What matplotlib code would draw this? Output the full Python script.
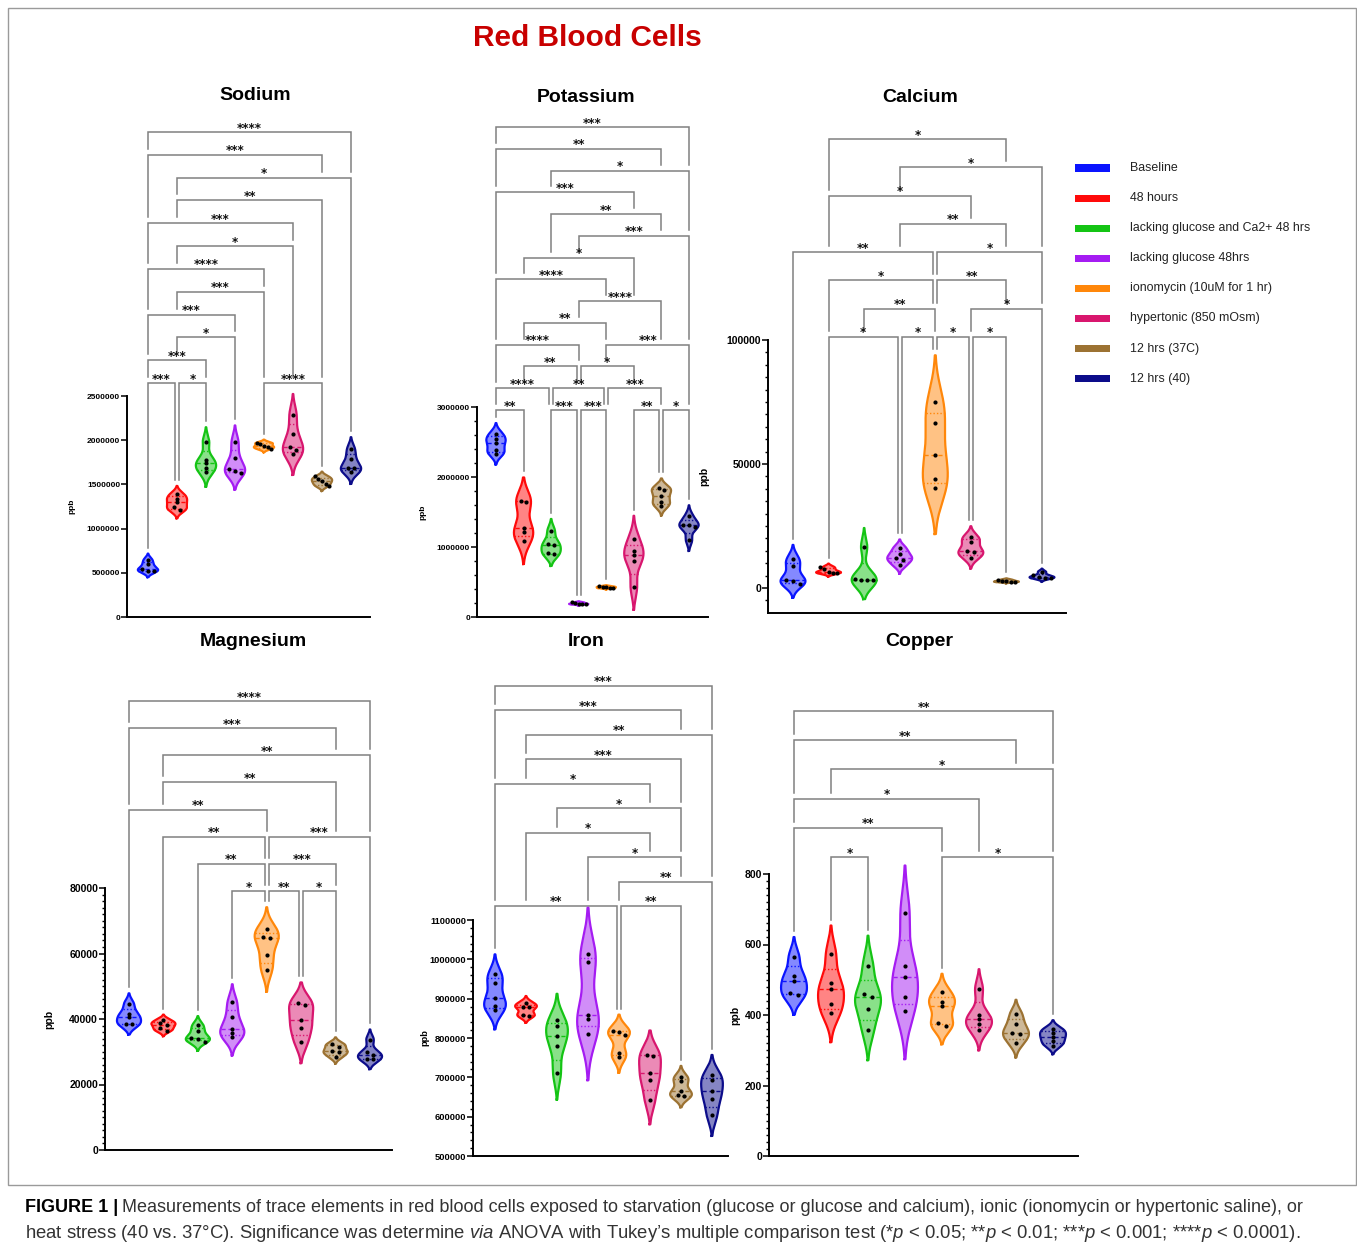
import numpy as np
import matplotlib
matplotlib.use("Agg")
import matplotlib.pyplot as plt
from matplotlib.patches import Rectangle
from matplotlib.ticker import FixedLocator, StrMethodFormatter

plt.rcParams.update({
    "font.family": ["Liberation Sans", "DejaVu Sans"],
    "mathtext.fontset": "custom",
    "mathtext.rm": "Liberation Sans",
    "mathtext.it": "Liberation Sans:italic",
    "mathtext.bf": "Liberation Sans:bold",
})

W, H = 1357, 1250

GROUPS = ["Baseline", "48 hours", "lacking glucose and Ca2+ 48 hrs", "lacking glucose 48hrs",
          "ionomycin (10uM for 1 hr)", "hypertonic (850 mOsm)", "12 hrs (37C)", "12 hrs (40)"]
COLORS = ["#0A14FF", "#FF0A0A", "#14C414", "#A51CF2", "#FF870A", "#D8166E", "#9C7232", "#0C0C8A"]

# ppb values, 5 replicates per condition
SODIUM = [
    [648000, 596000, 547000, 524000, 520000],
    [1390000, 1340000, 1300000, 1240000, 1210000],
    [1980000, 1780000, 1740000, 1690000, 1640000],
    [1980000, 1800000, 1670000, 1650000, 1630000],
    [1970000, 1960000, 1930000, 1920000, 1900000],
    [2290000, 2070000, 1920000, 1890000, 1840000],
    [1590000, 1560000, 1540000, 1510000, 1480000],
    [1900000, 1790000, 1690000, 1680000, 1640000],
]
POTASSIUM = [
    [2620000, 2540000, 2490000, 2380000, 2330000],
    [1660000, 1650000, 1270000, 1220000, 1090000],
    [1230000, 1050000, 1030000, 910000, 900000],
    [210000, 200000, 190000, 185000, 180000],
    [440000, 430000, 425000, 415000, 410000],
    [1120000, 950000, 880000, 800000, 430000],
    [1840000, 1820000, 1730000, 1640000, 1590000],
    [1440000, 1320000, 1310000, 1290000, 1100000],
]
CALCIUM = [
    [11800, 8700, 3400, 2700, 1700],
    [8500, 7600, 6500, 6200, 6000],
    [16600, 3600, 3400, 3100, 3100],
    [16200, 13900, 12100, 11400, 9200],
    [75100, 66400, 53700, 44000, 40500],
    [20600, 18600, 14900, 14500, 12200],
    [3400, 3000, 2700, 2500, 2400],
    [6500, 5100, 4400, 4200, 3900],
]
MAGNESIUM = [
    [44600, 41600, 40600, 38500, 38500],
    [39700, 38700, 38300, 37200, 36400],
    [38200, 36300, 34200, 33900, 33000],
    [45100, 40500, 36900, 35700, 34400],
    [67600, 65000, 64800, 59400, 54900],
    [44800, 44300, 39700, 37200, 32900],
    [32400, 31600, 30100, 29800, 28400],
    [33700, 29900, 29100, 27800, 27800],
]
IRON = [
    [963000, 941000, 901000, 882000, 872000],
    [889000, 880000, 878000, 859000, 857000],
    [845000, 830000, 806000, 779000, 711000],
    [1014000, 992000, 859000, 849000, 810000],
    [819000, 815000, 808000, 762000, 752000],
    [758000, 754000, 711000, 692000, 642000],
    [701000, 690000, 665000, 654000, 652000],
    [705000, 693000, 665000, 644000, 603000],
]
COPPER = [
    [565, 512, 496, 461, 457],
    [572, 490, 473, 431, 405],
    [540, 459, 450, 417, 357],
    [688, 539, 507, 450, 411],
    [465, 438, 426, 378, 369],
    [473, 400, 388, 374, 357],
    [403, 374, 348, 346, 320],
    [361, 350, 339, 326, 313],
]

# Tukey comparisons, one row per bracket tier (top tier first): (group i, group j, label)
SODIUM_SIG = [
    [(0, 7, "****")], [(0, 6, "***")], [(1, 7, "*")], [(1, 6, "**")], [(0, 5, "***")],
    [(1, 5, "*")], [(0, 4, "****")], [(1, 4, "***")], [(0, 3, "***")], [(1, 3, "*")],
    [(0, 2, "***")], [(0, 1, "***"), (1, 2, "*"), (4, 6, "****")],
]
POTASSIUM_SIG = [
    [(0, 7, "***")], [(0, 6, "**")], [(2, 7, "*")], [(0, 5, "***")], [(2, 6, "**")],
    [(3, 7, "***")], [(1, 5, "*")], [(0, 4, "****")], [(3, 6, "****")], [(1, 4, "**")],
    [(0, 3, "****"), (4, 7, "***")], [(1, 3, "**"), (3, 5, "*")],
    [(0, 2, "****"), (2, 4, "**"), (4, 6, "***")],
    [(0, 1, "**"), (2, 3, "***"), (3, 4, "***"), (5, 6, "**"), (6, 7, "*")],
]
CALCIUM_SIG = [
    [(1, 6, "*")], [(3, 7, "*")], [(1, 5, "*")], [(3, 6, "**")],
    [(0, 4, "**"), (4, 7, "*")], [(1, 4, "*"), (4, 6, "**")], [(2, 4, "**"), (5, 7, "*")],
    [(1, 3, "*"), (3, 4, "*"), (4, 5, "*"), (5, 6, "*")],
]
MAGNESIUM_SIG = [
    [(0, 7, "****")], [(0, 6, "***")], [(1, 7, "**")], [(1, 6, "**")], [(0, 4, "**")],
    [(1, 4, "**"), (4, 7, "***")], [(2, 4, "**"), (4, 6, "***")],
    [(3, 4, "*"), (4, 5, "**"), (5, 6, "*")],
]
IRON_SIG = [
    [(0, 7, "***")], [(0, 6, "***")], [(1, 7, "**")], [(1, 6, "***")], [(0, 5, "*")],
    [(2, 6, "*")], [(1, 5, "*")], [(3, 6, "*")], [(4, 7, "**")], [(0, 4, "**"), (4, 6, "**")],
]
COPPER_SIG = [
    [(0, 7, "**")], [(0, 6, "**")], [(1, 7, "*")], [(0, 5, "*")], [(0, 4, "**")],
    [(1, 2, "*"), (4, 7, "*")],
]

# layout in figure pixels
PANELS = [
    dict(title="Sodium", data=SODIUM, sig=SODIUM_SIG, box=(127, 370, 617), g=(148, 351),
         ref=((0, 617), (2500000, 396)), ticks=(0, 2500000, 500000), minor=None, fs=6,
         title_xy=(255, 95), ylab_xy=(72, 506), br=(383, 132)),
    dict(title="Potassium", data=POTASSIUM, sig=POTASSIUM_SIG, box=(477, 708, 617), g=(496, 689),
         ref=((0, 617), (3000000, 407)), ticks=(0, 3000000, 1000000), minor=(0, 200000), fs=6,
         title_xy=(586, 98), ylab_xy=(423, 512), br=(410, 127)),
    dict(title="Calcium", data=CALCIUM, sig=CALCIUM_SIG, box=(768, 1066, 613), g=(793, 1042),
         ref=((0, 588), (100000, 340)), ticks=(0, 100000, 50000), minor=(-5000, 5000), fs=7.5,
         title_xy=(920, 98), ylab_xy=(704, 476), br=(337, 139)),
    dict(title="Magnesium", data=MAGNESIUM, sig=MAGNESIUM_SIG, box=(105, 392, 1150), g=(129, 370),
         ref=((0, 1150), (80000, 888)), ticks=(0, 80000, 20000), minor=(0, 2000), fs=7.5,
         title_xy=(253, 642), ylab_xy=(49, 1019), br=(891, 701)),
    dict(title="Iron", data=IRON, sig=IRON_SIG, box=(473, 728, 1156), g=(495, 712),
         ref=((500000, 1156), (1100000, 920)), ticks=(500000, 1100000, 100000), minor=(500000, 20000),
         fs=6.7, title_xy=(586, 641), ylab_xy=(425, 1038), br=(906, 686)),
    dict(title="Copper", data=COPPER, sig=COPPER_SIG, box=(769, 1078, 1156), g=(794, 1053),
         ref=((0, 1156), (800, 874)), ticks=(0, 800, 200), minor=(0, 20), fs=7.5,
         title_xy=(919, 641), ylab_xy=(735, 1015), br=(857, 711)),
]

HALF_W = 0.35
GAP_PX = 6
BW_SCALE = 0.8
CUT = 2.2


def fx(x):
    return x / W


def fy(y):
    return 1 - y / H


def draw_violin(ax, pos, vals, color):
    v = np.asarray(vals, float)
    bw = BW_SCALE * v.std(ddof=1) * len(v) ** (-0.2)
    y = np.linspace(v.min() - CUT * bw, v.max() + CUT * bw, 300)
    d = np.exp(-0.5 * ((y[:, None] - v[None, :]) / bw) ** 2).sum(1)
    hw = d / d.max() * HALF_W
    ax.fill_betweenx(y, pos - hw, pos + hw, color=color, alpha=0.5, lw=0, zorder=2)
    ax.plot(np.r_[pos - hw, (pos + hw)[::-1], pos - hw[0]], np.r_[y, y[::-1], y[0]],
            color=color, lw=1.6, zorder=3, solid_joinstyle="round")
    q1, med, q3 = np.percentile(v, [25, 50, 75], method="weibull")
    for q, ls in ((med, (0, (3, 2))), (q1, (0, (1, 1.5))), (q3, (0, (1, 1.5)))):
        w = np.interp(q, y, hw)
        ax.plot([pos - w, pos + w], [q, q], color=color, lw=1, ls=ls, zorder=3)
    return y[-1]


def draw_dots(ax, pos, vals, upp):
    v = np.sort(np.asarray(vals, float))[::-1]
    offs = np.zeros(len(v))
    start = 0
    for k in range(1, len(v) + 1):
        if k == len(v) or (v[k - 1] - v[k]) / upp > 3.2:
            n = k - start
            if n > 1:
                st = min(0.2, 0.5 / (n - 1))
                offs[start:k] = (np.arange(n) - (n - 1) / 2) * st
            start = k
    ax.scatter(pos + offs, v, s=9, color="black", lw=0, zorder=4)


def draw_panel(fig, p):
    left, right, bottom = p["box"]
    g0, g7 = p["g"]
    (v1, p1), (v2, p2) = p["ref"]
    base_px, top_br = p["br"]
    rows = p["sig"]
    nlev = len(rows)
    step_px = (base_px - top_br) / (nlev - 1)
    top_px = top_br - 25
    ax = fig.add_axes([fx(left), fy(bottom), (right - left) / W, (bottom - top_px) / H])
    upp = (v2 - v1) / (p1 - p2)
    ylo = v1 - (bottom - p1) * upp
    ax.set_ylim(ylo, v1 + (p1 - top_px) * upp)
    sp = (g7 - g0) / 7
    ax.set_xlim(-(g0 - left) / sp, 7 + (right - g7) / sp)

    def ypx(px):
        return v1 + (p1 - px) * upp

    lo, hi, stp = p["ticks"]
    ax.yaxis.set_major_locator(FixedLocator(np.arange(lo, hi + stp / 2, stp)))
    if p["minor"]:
        ax.yaxis.set_minor_locator(FixedLocator(np.arange(p["minor"][0], hi + 1, p["minor"][1])))
    ax.yaxis.set_major_formatter(StrMethodFormatter("{x:.0f}"))
    ax.tick_params(axis="y", which="major", length=4, width=1.1, pad=1, labelsize=p["fs"])
    ax.tick_params(axis="y", which="minor", length=2.2, width=1.0)
    for lab in ax.get_yticklabels():
        lab.set_fontweight("bold")
    ax.set_xticks([])
    for s in ("top", "right"):
        ax.spines[s].set_visible(False)
    ax.spines["left"].set_bounds(ylo, hi)
    ax.spines["left"].set_linewidth(1.4)
    ax.spines["bottom"].set_linewidth(1.4)
    ax.patch.set_alpha(0)

    tops = []
    for i, (vals, c) in enumerate(zip(p["data"], COLORS)):
        tops.append(draw_violin(ax, i, vals, c))
        draw_dots(ax, i, vals, upp)

    # significance brackets
    d = 2.0 / sp
    brs = []
    for r, row in enumerate(rows):
        lev = nlev - 1 - r
        for (i, j, lab) in row:
            brs.append((lev, i, j, lab))
    for lev, i, j, lab in brs:
        yl = ypx(base_px - lev * step_px)
        same = [(a, b) for (L, a, b, _) in brs if L == lev]
        xi = i + d if any(b == i for a, b in same) else i
        xj = j - d if any(a == j for a, b in same) else j
        ends = []
        for g in (i, j):
            below = [L for (L, a, b, _) in brs if L < lev and a <= g <= b]
            if below:
                ends.append(ypx(base_px - max(below) * step_px) + GAP_PX * upp)
            else:
                ends.append(tops[g] + GAP_PX * upp)
        ax.plot([xi, xi, xj, xj], [ends[0], yl, yl, ends[1]], color="#808080", lw=1.1,
                clip_on=False, zorder=1, solid_joinstyle="miter")
        ax.text((xi + xj) / 2, yl + 0.5 * upp, lab, ha="center", va="baseline",
                fontsize=8.5, fontweight="bold", color="#111111", family="DejaVu Sans")

    fig.text(fx(p["title_xy"][0]), fy(p["title_xy"][1]), p["title"], ha="center", va="center",
             fontsize=14, fontweight="bold")
    fig.text(fx(p["ylab_xy"][0]), fy(p["ylab_xy"][1]), "ppb", ha="center", va="center",
             rotation=90, fontsize=p["fs"], fontweight="bold")
    return ax


fig = plt.figure(figsize=(W / 100, H / 100), dpi=100)
fig.patch.set_facecolor("white")

fig.patches.append(Rectangle((fx(8), fy(1185)), (1356 - 8) / W, (1185 - 8) / H,
                             transform=fig.transFigure, fill=False, edgecolor="#9a9a9a", lw=1.0))

for p in PANELS:
    draw_panel(fig, p)

fig.text(fx(587), fy(38), "Red Blood Cells", ha="center", va="center", fontsize=21.5,
         fontweight="bold", color="#C80000")

# legend
for k, (name, c) in enumerate(zip(GROUPS, COLORS)):
    yc = 168 + k * 30.1
    fig.patches.append(Rectangle((fx(1075), fy(yc + 3.5)), 35 / W, 7 / H, transform=fig.transFigure,
                                 facecolor=c, edgecolor="none"))
    fig.text(fx(1130), fy(yc), name, ha="left", va="center", fontsize=8.9, color="#222222")

# caption
r = fig.canvas.get_renderer()
t0 = fig.text(fx(25), fy(1208), "FIGURE 1 |", ha="left", va="center", fontsize=13,
              fontweight="bold", color="black")
bb = t0.get_window_extent(renderer=r)
fig.text(bb.x1 / W + 4 / W, fy(1208),
         "Measurements of trace elements in red blood cells exposed to starvation (glucose or glucose and "
         "calcium), ionic (ionomycin or hypertonic saline), or",
         ha="left", va="center", fontsize=13, color="#333333")
fig.text(fx(25), fy(1234),
         r"heat stress (40 vs. 37°C). Significance was determine $\it{via}$ ANOVA with Tukey’s multiple "
         r"comparison test (*$\it{p}$ < 0.05; **$\it{p}$ < 0.01; ***$\it{p}$ < 0.001; ****$\it{p}$ < 0.0001).",
         ha="left", va="center", fontsize=13.3, color="#333333")

fig.savefig("out.png", dpi=100)
